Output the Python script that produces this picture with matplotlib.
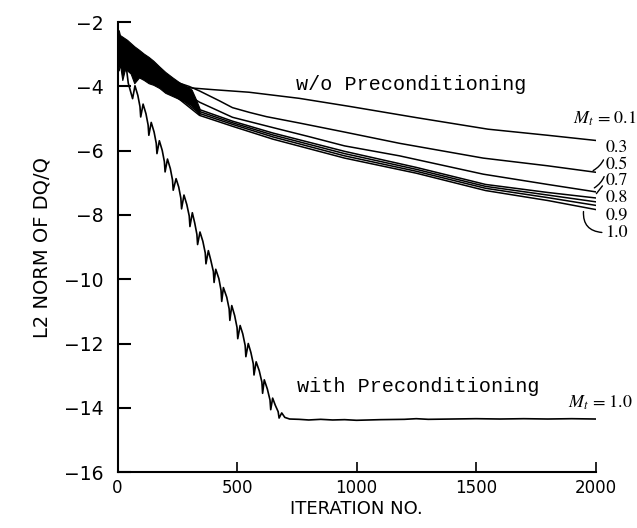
import matplotlib
matplotlib.use("Agg")
import matplotlib.pyplot as plt
import numpy as np

# iteration history of log10 L2 norm of DQ/Q
band_it = [0, 5, 10, 20, 30, 40, 55, 70, 90, 110, 130, 150, 175, 200, 230, 260, 290, 310, 325, 343]
band_hi = [-2.30, -2.25, -2.40, -2.45, -2.50, -2.55, -2.65, -2.75, -2.86, -2.98,
           -3.08, -3.20, -3.38, -3.55, -3.72, -3.88, -4.00, -4.10, -4.35, -4.68]
band_lo = [-3.40, -3.50, -3.30, -3.80, -3.50, -3.50, -3.60, -3.90, -3.72, -3.80,
           -3.90, -3.95, -4.05, -4.20, -4.30, -4.40, -4.50, -4.58, -4.70, -4.88]

it_m01 = [200, 280, 400, 550, 760, 970, 1250, 1550, 1800, 2000]
l2_m01 = [-3.75, -4.03, -4.10, -4.18, -4.37, -4.62, -4.97, -5.33, -5.52, -5.68]

it_m03 = [200, 300, 343, 427, 481, 553, 623, 762, 950, 1180, 1530, 1800, 2000]
l2_m03 = [-3.75, -4.00, -4.14, -4.45, -4.66, -4.81, -4.94, -5.14, -5.42, -5.77, -6.23, -6.47, -6.67]

it_m05 = [200, 280, 343, 481, 650, 800, 950, 1180, 1530, 1800, 2000]
l2_m05 = [-3.85, -4.20, -4.49, -4.96, -5.28, -5.56, -5.85, -6.16, -6.73, -7.05, -7.28]

it_bnd = [200, 343, 481, 650, 950, 1250, 1540, 1800, 2000]
l2_m07 = [-3.90, -4.72, -5.08, -5.45, -6.02, -6.52, -7.05, -7.30, -7.47]
l2_m08 = [-3.95, -4.78, -5.13, -5.51, -6.09, -6.58, -7.11, -7.38, -7.59]
l2_m09 = [-4.00, -4.84, -5.18, -5.57, -6.16, -6.64, -7.17, -7.46, -7.70]
l2_m10 = [-4.05, -4.90, -5.24, -5.64, -6.23, -6.70, -7.24, -7.55, -7.83]

it_pre = [0, 15, 30, 45,
          63, 73, 85, 94, 97, 107, 119, 128, 131, 141, 153, 162,
          165, 175, 187, 196, 199, 209, 221, 230, 233, 245, 256, 265,
          268, 278, 290, 300, 303, 313, 323, 332, 335, 345, 357, 367,
          370, 380, 390, 401, 404, 411, 424, 433, 436, 443, 457, 467,
          470, 478, 490, 500, 503, 513, 524, 534, 537, 547, 558, 568,
          571, 580, 593, 604, 607, 614, 627, 638, 641, 649, 660, 672,
          676, 687, 700, 720, 760, 800, 850, 900, 950, 1000, 1100, 1200,
          1250, 1300, 1400, 1500, 1600, 1700, 1800, 1900, 2000]
l2_pre = [-2.50, -3.30, -3.00, -3.90,
          -4.38, -3.98, -4.28, -4.63, -4.95, -4.55, -4.85, -5.20, -5.52, -5.12, -5.42, -5.77,
          -6.09, -5.69, -5.99, -6.34, -6.66, -6.26, -6.56, -6.91, -7.23, -6.87, -7.13, -7.48,
          -7.81, -7.38, -7.68, -8.03, -8.36, -7.93, -8.25, -8.60, -8.92, -8.53, -8.82, -9.18,
          -9.52, -9.11, -9.40, -9.76, -10.10, -9.69, -9.98, -10.34, -10.69, -10.26, -10.56, -10.92,
          -11.28, -10.82, -11.13, -11.50, -11.85, -11.44, -11.70, -12.06, -12.41, -12.00, -12.28, -12.63,
          -12.98, -12.57, -12.85, -13.20, -13.55, -13.13, -13.42, -13.76, -14.06, -13.70, -13.92, -14.12,
          -14.32, -14.16, -14.30, -14.35, -14.36, -14.38, -14.36, -14.38, -14.37, -14.39, -14.37, -14.36,
          -14.34, -14.36, -14.35, -14.34, -14.35, -14.34, -14.35, -14.34, -14.35]

mach_labels = ["0.3", "0.5", "0.7", "0.8", "0.9", "1.0"]
label_y     = [-5.91, -6.43, -6.95, -7.48, -8.03, -8.55]

plt.rcParams['mathtext.fontset'] = 'stix'

fig = plt.figure(figsize=(6.37, 5.28), dpi=100)
ax = fig.add_axes([0.1845, 0.106, 0.7504, 0.852])

lw = 1.1
ax.fill_between(band_it, band_lo, band_hi, color='black', linewidth=0.8)
ax.plot(it_m01, l2_m01, color='black', linewidth=lw)
ax.plot(it_m03, l2_m03, color='black', linewidth=lw)
ax.plot(it_m05, l2_m05, color='black', linewidth=lw)
for l2 in [l2_m07, l2_m08, l2_m09, l2_m10]:
    ax.plot(it_bnd, l2, color='black', linewidth=lw)
ax.plot(it_pre, l2_pre, color='black', linewidth=1.2)

ax.set_xlim(0, 2000)
ax.set_ylim(-16, -2)
ax.set_xticks([0, 500, 1000, 1500, 2000])
ax.set_yticks(np.arange(-16, -1, 2))
for s in ['top', 'right']:
    ax.spines[s].set_visible(False)
for s in ['left', 'bottom']:
    ax.spines[s].set_linewidth(1.5)
ax.tick_params(axis='y', direction='in', length=9, width=1.5, labelsize=13.5, pad=10)
ax.tick_params(axis='x', direction='in', length=7, width=1.2, labelsize=12, pad=5)
ax.set_xlabel('ITERATION NO.', fontsize=13, labelpad=2)
ax.set_ylabel('L2 NORM OF DQ/Q', fontsize=14, labelpad=9)

mono = 'Liberation Mono'
ax.text(745, -3.94, 'w/o Preconditioning', family=mono, fontsize=14.5, va='center')
ax.text(752, -13.33, 'with Preconditioning', family=mono, fontsize=14.5, va='center')

serif = 'STIXGeneral'
ax.text(1906, -5.02, r'$M_t$ = 0.1', family=serif, fontsize=13, va='center', clip_on=False)
ax.text(1885, -13.86, r'$M_t$ = 1.0', family=serif, fontsize=13, va='center', clip_on=False)

ends = {"0.3": (it_m03[-1] - 15, l2_m03[-1] + 0.03),
        "0.5": (it_m05[-1] - 10, l2_m05[-1] + 0.1),
        "0.7": (it_bnd[-1], l2_m07[-1] + 0.1),
        "1.0": (it_bnd[-2] + 150, l2_m10[-2] - 0.3)}
styles = {"0.3": 'arc3,rad=-0.3', "0.5": 'arc3,rad=-0.3', "0.7": 'arc3,rad=0',
          "1.0": 'angle3,angleA=0,angleB=85'}
for lab, yl in zip(mach_labels, label_y):
    if lab in ends:
        ax.annotate(lab, xy=ends[lab], xytext=(2044, yl), family=serif, fontsize=13,
                    va='center', ha='left', annotation_clip=False,
                    arrowprops=dict(arrowstyle='-', color='black', lw=1.0,
                                    connectionstyle=styles[lab], shrinkA=1, shrinkB=1,
                                    relpos=(0, 0.5)))
    else:
        ax.text(2044, yl, lab, family=serif, fontsize=13, va='center', ha='left', clip_on=False)

fig.savefig('out.png', dpi=100)
